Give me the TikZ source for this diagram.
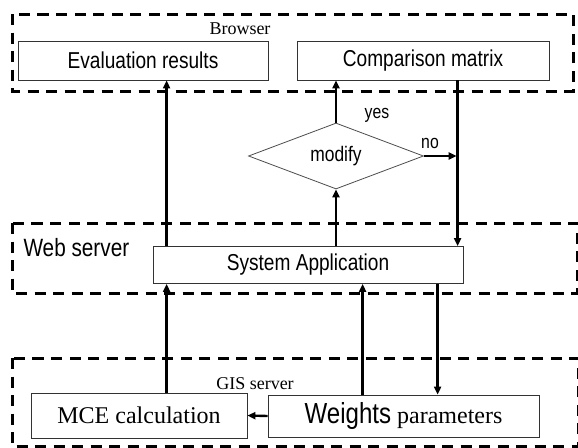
\documentclass[tikz,border=0pt]{standalone}
\usepackage{fontspec}
\setmainfont{Liberation Serif}
\newfontfamily\an[FakeStretch=0.83]{Liberation Sans}
\usetikzlibrary{arrows.meta,shapes.geometric,calc}
\newcommand{\fs}[1]{\fontsize{#1}{#1}\selectfont}
\tikzset{
  tier/.style={draw=black,line width=3pt,dash pattern=on 11pt off 7.5pt},
  box/.style={draw=black!80,line width=0.8pt,rectangle,inner sep=0pt,fill=white},
  arr/.style={draw=black,line width=2.4pt,-{Triangle[length=8pt,width=7pt]}},
  sans/.style={font=\an\fs{#1}},
  serif/.style={font=\fs{#1}},
}
\begin{document}
\begin{tikzpicture}[x=1pt,y=-1pt]
\useasboundingbox (0,0) rectangle (578,447);
% tiers
\draw[tier] (12,14) rectangle (573,91);
\draw[tier] (12,223) rectangle (577,293);
\draw[tier] (12,358) rectangle (578,446);
% tier labels
\node[serif=18] (browser) at (240,29) {Browser};
\node[sans=25,anchor=west] (web) at (20,248) {Web server};
\node[serif=18] (gis) at (255,384) {GIS server};
% boxes
\node[box,sans=23,minimum width=250pt,minimum height=39pt] (eval) at (143,60.5) {Evaluation results};
\node[box,sans=23,minimum width=252pt,minimum height=39pt] (comp) at (423,60.5) {Comparison matrix};
\node[box,sans=23,minimum width=310pt,minimum height=37pt] (sys) at (308,265) {System Application};
\node[box,serif=24,minimum width=216pt,minimum height=45pt] (mce) at (139,415.5) {MCE calculation};
\node[box,serif=24,minimum width=271pt,minimum height=42pt] (wts) at (403.5,416) {{\an\fs{29}Weights} parameters};
\node[draw=black!70,line width=0.8pt,diamond,aspect=2.65,inner sep=0pt,minimum width=175pt,minimum height=66pt,sans=21] (dec) at (336,156) {modify};
% decision labels
\node[sans=19] (yes) at (377,115) {yes};
\node[sans=19] (no) at (430,143) {no};
% connectors
\coordinate (cx) at ([xshift=161pt]comp.south west);
\draw[arr] ([xshift=14pt]sys.north west) -- ([xshift=14pt]sys.north west |- eval.south);
\draw[arr] (sys.north -| dec.south) -- (dec.south);
\draw[arr] (dec.north) -- (dec.north |- comp.south);
\draw[arr] (cx) -- (cx |- sys.north);
\draw[arr] (dec.east) -- ($(dec.east -| cx)+(-1,0)$);
\draw[arr] ([xshift=136pt]mce.north west) -- ([xshift=136pt]mce.north west |- sys.south);
\draw[arr] ([xshift=95pt]wts.north west) -- ([xshift=95pt]wts.north west |- sys.south);
\draw[arr] ([xshift=170pt]wts.north west |- sys.south) -- ([xshift=170pt]wts.north west);
\draw[arr] (wts.west) -- (mce.east);
\end{tikzpicture}
\end{document}
